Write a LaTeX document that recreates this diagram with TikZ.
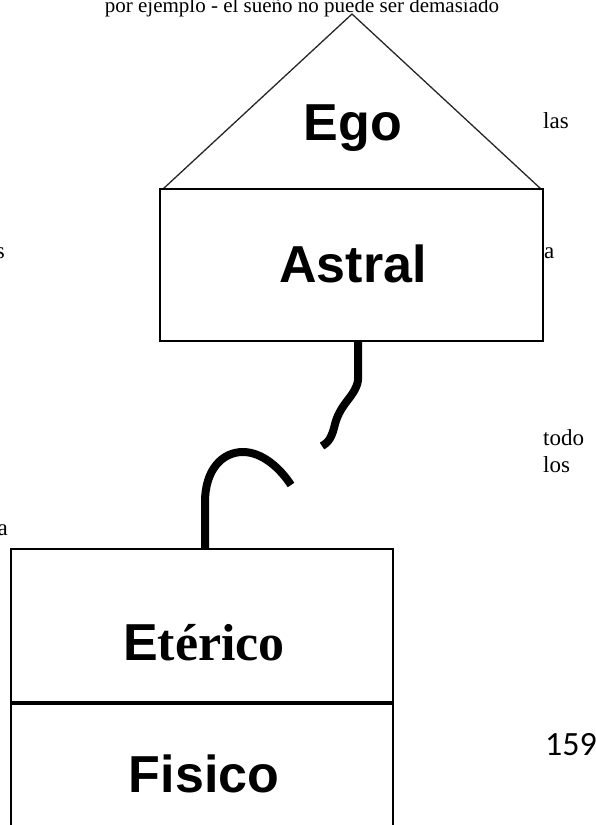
\documentclass[tikz,border=0pt]{standalone}
\usepackage{fontspec}
\setmainfont{Liberation Serif}
\newfontfamily\boldsans{Liberation Sans}
\newfontfamily\pagefont{Carlito}
\usetikzlibrary{positioning,calc}

\begin{document}
\begin{tikzpicture}[x=1pt, y=-1pt,
  layer/.style={draw, line width=1.8pt, inner sep=0pt},
  lbl/.style={font=\boldsans\bfseries\fontsize{52}{52}\selectfont, inner sep=0pt, anchor=base},
  side/.style={font=\fontsize{23}{27}\selectfont, inner sep=0pt},
  rope/.style={line width=8pt, line cap=butt, line join=round}]
  \useasboundingbox (0,0) rectangle (596,825);
  % text of the page
  \node[font=\fontsize{21}{24}\selectfont, inner sep=0pt, anchor=base] (top) at (302,12) {por ejemplo - el sueño no puede ser demasiado};
  \node[side, anchor=base west] (las) at (543,128) {las};
  \node[side, anchor=base west] (ra) at (544,258) {a};
  \node[side, anchor=base east] (ls) at (5,258) {s};
  \node[side, anchor=base west] (todo) at (543,445) {todo};
  \node[side, anchor=base west] (los) at (543,472) {los};
  \node[side, anchor=base east] (la) at (8,535) {a};
  \node[font=\pagefont\fontsize{34}{34}\selectfont, inner sep=0pt, anchor=base west] (page) at (545,755) {159};
  % upper bodies
  \coordinate (apex) at (352,14);
  \coordinate (egol) at (163,189);
  \coordinate (egor) at (541,189);
  \draw[line width=1.3pt, black!85] (egol) -- (apex) -- (egor);
  \node[lbl] (ego) at (353,140) {Ego};
  \node[layer, minimum width=383pt, minimum height=152pt] (astral) at (351.5,265) {};
  \node[lbl] (astraltxt) at (353,282) {Astral};
  % lower bodies
  \node[layer, minimum width=382pt, minimum height=153pt] (eterico) at (202,625.5) {};
  \node[layer, minimum width=382pt, minimum height=160pt, below=0pt of eterico] (fisico) {};
  \node[lbl] (etericotxt) at (204,660) {{\boldsans\bfseries E}{\rmfamily\bfseries térico}};
  \node[lbl] (fisicotxt) at (204,792) {Fisico};
  % broken cord
  \coordinate (cordtop) at (358,341);
  \coordinate (cordend) at (322,446);
  \coordinate (cordbot) at (205,549);
  \coordinate (cordhook) at (291,485);
  \draw[rope] (cordtop) -- (358,380) .. controls (356,396) and (341,402) .. (335,424)
    .. controls (332,437) and (329,442) .. (cordend);
  \draw[rope] (cordbot) -- (205,502) .. controls (205,470) and (222,452) .. (243,452)
    .. controls (262,452) and (280,468) .. (cordhook);
\end{tikzpicture}
\end{document}
